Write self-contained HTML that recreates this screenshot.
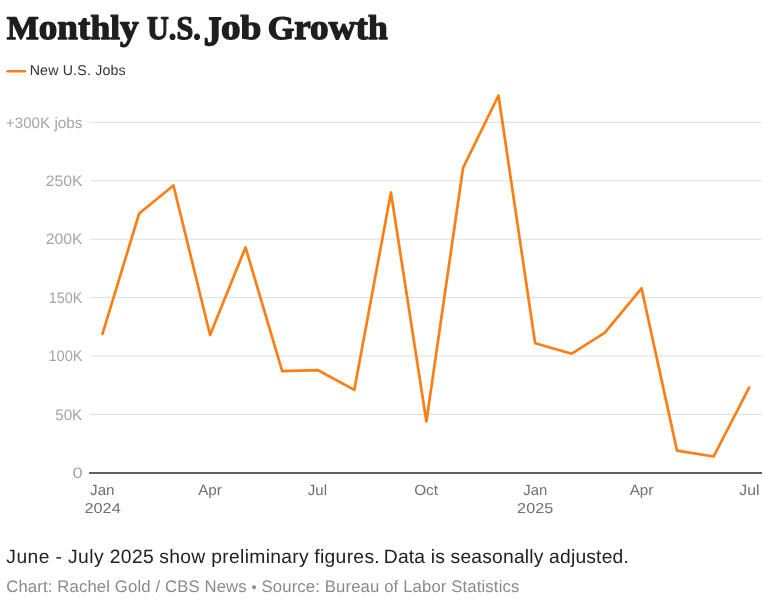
<!DOCTYPE html>
<html><head><meta charset="utf-8"><title>Monthly U.S. Job Growth</title>
<style>
html,body{margin:0;padding:0;background:#fff;}
body{width:768px;height:604px;overflow:hidden;}
svg{display:block;text-rendering:geometricPrecision;}
</style></head>
<body>
<svg width="768" height="604" viewBox="0 0 768 604">
<text x="6.68" y="39.00" textLength="131.92" lengthAdjust="spacingAndGlyphs" font-family='"Liberation Serif", "Times New Roman", serif' font-size="35" font-weight="bold" fill="#1e1e1e" stroke="#1e1e1e" stroke-width="1.3" stroke-linejoin="round"><tspan font-size="33.0">M</tspan><tspan font-size="36.0">o</tspan><tspan font-size="36.0">n</tspan><tspan font-size="36.0">t</tspan><tspan font-size="34.4">h</tspan><tspan font-size="34.4">l</tspan><tspan font-size="36.0">y</tspan></text>
<text x="147.04" y="39.00" textLength="53.72" lengthAdjust="spacingAndGlyphs" font-family='"Liberation Serif", "Times New Roman", serif' font-size="35" font-weight="bold" fill="#1e1e1e" stroke="#1e1e1e" stroke-width="1.3" stroke-linejoin="round"><tspan font-size="33.0">U</tspan><tspan font-size="33.0">.</tspan><tspan font-size="33.0">S</tspan><tspan font-size="33.0">.</tspan></text>
<text x="203.65" y="39.00" textLength="17.88" lengthAdjust="spacingAndGlyphs" font-family='"Liberation Serif", "Times New Roman", serif' font-size="35" font-weight="bold" fill="#1e1e1e" stroke="#1e1e1e" stroke-width="1.3" stroke-linejoin="round" transform="translate(0,17) scale(1,1.264) translate(0,-17)"><tspan font-size="33.0">J</tspan></text>
<text x="220.97" y="39.00" textLength="40.41" lengthAdjust="spacingAndGlyphs" font-family='"Liberation Serif", "Times New Roman", serif' font-size="35" font-weight="bold" fill="#1e1e1e" stroke="#1e1e1e" stroke-width="1.3" stroke-linejoin="round"><tspan font-size="36.0">o</tspan><tspan font-size="34.4">b</tspan></text>
<text x="267.70" y="39.00" textLength="120.06" lengthAdjust="spacingAndGlyphs" font-family='"Liberation Serif", "Times New Roman", serif' font-size="35" font-weight="bold" fill="#1e1e1e" stroke="#1e1e1e" stroke-width="1.3" stroke-linejoin="round"><tspan font-size="33.0">G</tspan><tspan font-size="36.0">r</tspan><tspan font-size="36.0">o</tspan><tspan font-size="36.0">w</tspan><tspan font-size="36.0">t</tspan><tspan font-size="34.4">h</tspan></text>
<text x="29.63" y="74.90" textLength="96.05" lengthAdjust="spacing" font-family='"Liberation Sans", Arial, sans-serif' font-size="14.2" font-weight="normal" fill="#333">New U.S. Jobs</text>
<text x="5.87" y="127.59" textLength="76.37" lengthAdjust="spacingAndGlyphs" font-family='"Liberation Sans", Arial, sans-serif' font-size="15.2" font-weight="normal" fill="#a5a5a5">+300K jobs</text>
<text x="45.83" y="186.00" textLength="36.78" lengthAdjust="spacingAndGlyphs" font-family='"Liberation Sans", Arial, sans-serif' font-size="15.2" font-weight="normal" fill="#a5a5a5">250K</text>
<text x="45.83" y="244.41" textLength="36.78" lengthAdjust="spacingAndGlyphs" font-family='"Liberation Sans", Arial, sans-serif' font-size="15.2" font-weight="normal" fill="#a5a5a5">200K</text>
<text x="48.76" y="302.82" textLength="33.74" lengthAdjust="spacingAndGlyphs" font-family='"Liberation Sans", Arial, sans-serif' font-size="15.2" font-weight="normal" fill="#a5a5a5">150K</text>
<text x="48.44" y="361.23" textLength="34.21" lengthAdjust="spacingAndGlyphs" font-family='"Liberation Sans", Arial, sans-serif' font-size="15.2" font-weight="normal" fill="#a5a5a5">100K</text>
<text x="55.20" y="419.64" textLength="27.08" lengthAdjust="spacingAndGlyphs" font-family='"Liberation Sans", Arial, sans-serif' font-size="15.2" font-weight="normal" fill="#a5a5a5">50K</text>
<text x="72.44" y="478.05" textLength="10.15" lengthAdjust="spacingAndGlyphs" font-family='"Liberation Sans", Arial, sans-serif' font-size="15.2" font-weight="normal" fill="#a5a5a5">0</text>
<text x="90.14" y="494.60" textLength="24.41" lengthAdjust="spacingAndGlyphs" font-family='"Liberation Sans", Arial, sans-serif' font-size="14.8" font-weight="normal" fill="#707070">Jan</text>
<text x="84.43" y="513.20" textLength="36.33" lengthAdjust="spacingAndGlyphs" font-family='"Liberation Sans", Arial, sans-serif' font-size="14.3" font-weight="normal" fill="#707070">2024</text>
<text x="198.17" y="494.50" textLength="23.71" lengthAdjust="spacingAndGlyphs" font-family='"Liberation Sans", Arial, sans-serif' font-size="14.8" font-weight="normal" fill="#707070">Apr</text>
<text x="307.74" y="494.60" textLength="19.25" lengthAdjust="spacingAndGlyphs" font-family='"Liberation Sans", Arial, sans-serif' font-size="14.8" font-weight="normal" fill="#707070">Jul</text>
<text x="414.19" y="494.60" textLength="23.88" lengthAdjust="spacingAndGlyphs" font-family='"Liberation Sans", Arial, sans-serif' font-size="14.8" font-weight="normal" fill="#707070">Oct</text>
<text x="523.26" y="494.70" textLength="23.89" lengthAdjust="spacingAndGlyphs" font-family='"Liberation Sans", Arial, sans-serif' font-size="14.8" font-weight="normal" fill="#707070">Jan</text>
<text x="517.10" y="513.10" textLength="36.17" lengthAdjust="spacingAndGlyphs" font-family='"Liberation Sans", Arial, sans-serif' font-size="14.3" font-weight="normal" fill="#707070">2025</text>
<text x="629.69" y="494.60" textLength="23.68" lengthAdjust="spacingAndGlyphs" font-family='"Liberation Sans", Arial, sans-serif' font-size="14.8" font-weight="normal" fill="#707070">Apr</text>
<text x="739.22" y="494.60" textLength="20.23" lengthAdjust="spacingAndGlyphs" font-family='"Liberation Sans", Arial, sans-serif' font-size="14.8" font-weight="normal" fill="#707070">Jul</text>
<text x="6.36" y="562.80" textLength="147.43" lengthAdjust="spacing" font-family='"Liberation Sans", Arial, sans-serif' font-size="19.3" font-weight="normal" fill="#222">June - July 2025</text>
<text x="159.19" y="562.80" textLength="149.53" lengthAdjust="spacing" font-family='"Liberation Sans", Arial, sans-serif' font-size="19.3" font-weight="normal" fill="#222">show preliminary</text>
<text x="314.33" y="562.80" textLength="65.35" lengthAdjust="spacing" font-family='"Liberation Sans", Arial, sans-serif' font-size="19.3" font-weight="normal" fill="#222">figures.</text>
<text x="383.78" y="562.80" textLength="245.05" lengthAdjust="spacing" font-family='"Liberation Sans", Arial, sans-serif' font-size="19.3" font-weight="normal" fill="#222">Data is seasonally adjusted.</text>
<text x="6.26" y="591.80" textLength="513.04" lengthAdjust="spacing" font-family='"Liberation Sans", Arial, sans-serif' font-size="16.7" font-weight="normal" fill="#8a8a8a">Chart: Rachel Gold / CBS News <tspan font-size="14.5">&#8226;</tspan> Source: Bureau of Labor Statistics</text>
<line x1="7.7" x2="24.9" y1="71.2" y2="71.2" stroke="#fd7e14" stroke-width="2.6" stroke-linecap="round"/>
<g stroke="#dfdfdf" stroke-width="1"><line x1="90" x2="762" y1="414.44" y2="414.44"/><line x1="90" x2="762" y1="356.03" y2="356.03"/><line x1="90" x2="762" y1="297.62" y2="297.62"/><line x1="90" x2="762" y1="239.21" y2="239.21"/><line x1="90" x2="762" y1="180.80" y2="180.80"/><line x1="90" x2="762" y1="122.39" y2="122.39"/></g>
<line x1="89.1" x2="762" y1="473" y2="473" stroke="#616161" stroke-width="2"/>
<polyline points="102.50,333.83 139.14,213.51 173.43,185.47 210.07,335.00 245.53,247.39 282.18,371.22 317.64,370.05 354.28,389.91 390.93,192.48 426.39,421.45 463.04,167.95 498.50,95.52 535.14,343.18 571.79,353.69 604.89,332.67 641.53,288.27 676.99,450.65 713.64,456.50 749.10,387.57" fill="none" stroke="#fd7e14" stroke-width="2.7" stroke-linejoin="round" stroke-linecap="round"/>
</svg>
</body></html>
